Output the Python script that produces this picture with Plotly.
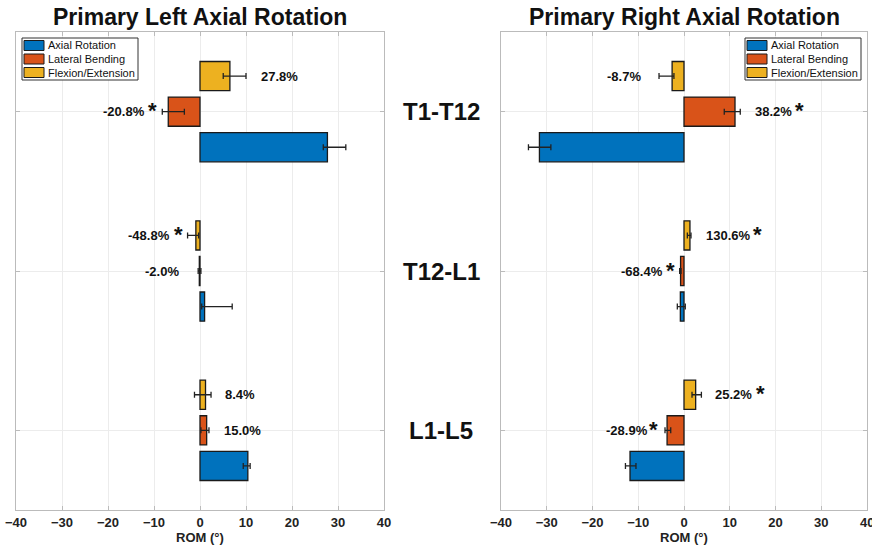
import plotly.graph_objects as go

segments = ["T1-T12", "T12-L1", "L1-L5"]
series = ["Axial Rotation", "Lateral Bending", "Flexion/Extension"]
colors = ["#0072BD", "#D95319", "#EDB120"]
xticks = [-40, -30, -20, -10, 0, 10, 20, 30, 40]

# Left panel (Primary Left Axial Rotation)
left_axial = [27.7, 1.0, 10.4]
left_axial_plus = [4.0, 6.0, 0.5]
left_axial_minus = [0.9, 0.63, 1.0]
left_lateral = [-6.9, -0.15, 1.45]
left_lateral_plus = [3.5, 0.35, 0.5]
left_lateral_minus = [1.3, 0.25, 1.25]
left_flex = [6.5, -0.9, 1.2]
left_flex_plus = [3.5, 0.6, 1.2]
left_flex_minus = [1.45, 1.8, 2.4]

# Right panel (Primary Right Axial Rotation)
right_axial = [-31.6, -0.8, -11.8]
right_axial_plus = [2.5, 1.08, 1.3]
right_axial_minus = [2.4, 0.66, 1.0]
right_lateral = [11.15, -0.75, -3.7]
right_lateral_plus = [1.15, 0.1, 0.8]
right_lateral_minus = [2.35, 0.2, 0.45]
right_flex = [-2.6, 1.3, 2.55]
right_flex_plus = [0.4, 0.23, 1.25]
right_flex_minus = [2.86, 0.57, 0.8]

# Percent-change labels: (segment index, series index, text, significant)
left_labels = [
    (0, 2, "27.8%", False), (0, 1, "-20.8%", True),
    (1, 2, "-48.8%", True), (1, 1, "-2.0%", False),
    (2, 2, "8.4%", False), (2, 1, "15.0%", False),
]
right_labels = [
    (0, 2, "-8.7%", False), (0, 1, "38.2%", True),
    (1, 2, "130.6%", True), (1, 1, "-68.4%", True),
    (2, 2, "25.2%", True), (2, 1, "-28.9%", True),
]
# label x positions (text centre, star) in data units
left_label_x = [(17.2, None), (-16.5, -10.3), (-11.1, -4.6), (-8.2, None), (8.7, None), (9.3, None)]
right_label_x = [(-13.1, None), (19.5, 25.2), (9.7, 16.1), (-9.1, -2.9), (10.9, 16.8), (-12.5, -6.6)]

ypos = [3, 2, 1]
slot = 0.223
offsets = [-slot, 0, slot]

FONT = "Liberation Sans, Arial, Helvetica, sans-serif"
W, H = 872, 547

fig = go.Figure()

def add_panel(vals, plus, minus, xa, ya):
    for i in range(3):
        fig.add_trace(go.Bar(
            y=ypos, x=vals[i], orientation="h", name=series[i],
            marker=dict(color=colors[i], line=dict(color="#1a1a1a", width=1.3)),
            error_x=dict(type="data", symmetric=False, array=plus[i], arrayminus=minus[i],
                         color="#222", thickness=1.3, width=3),
            xaxis=xa, yaxis=ya, showlegend=False,
        ))

add_panel([left_axial, left_lateral, left_flex],
          [left_axial_plus, left_lateral_plus, left_flex_plus],
          [left_axial_minus, left_lateral_minus, left_flex_minus], "x", "y")
add_panel([right_axial, right_lateral, right_flex],
          [right_axial_plus, right_lateral_plus, right_flex_plus],
          [right_axial_minus, right_lateral_minus, right_flex_minus], "x2", "y2")

ydom = [1 - 510 / H, 1 - 32 / H]
axis_common = dict(
    range=[-40, 40], tickvals=xticks,
    ticks="inside", ticklen=4, tickcolor="#bbb", showline=True, linecolor="#bbb",
    linewidth=1, mirror="ticks", showgrid=True, gridcolor="#ececec", zeroline=False,
    tickfont=dict(family=FONT, size=13, color="#222", weight="bold"),
    title=dict(text="ROM (°)", font=dict(family=FONT, size=13, color="#222", weight="bold"), standoff=2),
    fixedrange=True,
)
yaxis_common = dict(
    range=[0.5, 3.5], tickvals=[1, 2, 3], showticklabels=False, ticks="inside", ticklen=4,
    tickcolor="#bbb", showline=True, linecolor="#bbb", linewidth=1, mirror="ticks",
    showgrid=True, gridcolor="#ececec", zeroline=False, fixedrange=True,
)

fig.update_layout(
    width=W, height=H, margin=dict(l=0, r=0, t=0, b=0, autoexpand=False),
    paper_bgcolor="white", plot_bgcolor="white",
    barmode="group", bargap=0.33, bargroupgap=0.18,
    font=dict(family=FONT, color="#111"),
    showlegend=False,
    xaxis=dict(domain=[16 / W, 384 / W], anchor="y", **axis_common),
    yaxis=dict(domain=ydom, anchor="x", **yaxis_common),
    xaxis2=dict(domain=[501 / W, 867 / W], anchor="y2", **axis_common),
    yaxis2=dict(domain=ydom, anchor="x2", **yaxis_common),
)

annotations = []
shapes = []
annotations.append(dict(text="Primary Left Axial Rotation", x=200 / W, y=1 - 17 / H,
                        xref="paper", yref="paper", xanchor="center", yanchor="middle",
                        showarrow=False,
                        font=dict(family=FONT, size=23, color="#111", weight="bold")))
annotations.append(dict(text="Primary Right Axial Rotation", x=684 / W, y=1 - 17 / H,
                        xref="paper", yref="paper", xanchor="center", yanchor="middle",
                        showarrow=False,
                        font=dict(family=FONT, size=23, color="#111", weight="bold")))
for seg, yv in zip(segments, ypos):
    annotations.append(dict(text=seg, x=441 / W, y=yv, xref="paper", yref="y",
                            xanchor="center", yanchor="middle", showarrow=False,
                            font=dict(family=FONT, size=24, color="#111", weight="bold")))

# last tick label of the right axis (partly beyond the page edge, as in the original)
annotations.append(dict(text=str(xticks[-1]), x=xticks[-1], xref="x2", y=1 - 522 / H, yref="paper",
                        xanchor="center", yanchor="middle", showarrow=False,
                        font=dict(family=FONT, size=13, color="#222", weight="bold")))

def add_labels(labels, label_x, xref, yref):
    for (si, ser, txt, sig), (lx, sx) in zip(labels, label_x):
        yv = ypos[si] + offsets[ser]
        annotations.append(dict(text=txt, x=lx, y=yv, xref=xref, yref=yref, showarrow=False,
                                xanchor="center", yanchor="middle",
                                font=dict(family=FONT, size=13, color="#111", weight="bold")))
        if sig and sx is not None:
            annotations.append(dict(text="*", x=sx, y=yv, xref=xref, yref=yref, showarrow=False,
                                    xanchor="center", yanchor="middle", yshift=1,
                                    font=dict(family=FONT, size=22, color="#111", weight="bold")))

add_labels(left_labels, left_label_x, "x", "y")
add_labels(right_labels, right_label_x, "x2", "y2")

# legend boxes (drawn in pixel space)
def add_legend(x0, y0):
    w, h = 116, 42
    shapes.append(dict(type="rect", xref="paper", yref="paper",
                       x0=x0 / W, x1=(x0 + w) / W, y0=1 - (y0 + h) / H, y1=1 - y0 / H,
                       line=dict(color="#333", width=1), fillcolor="white", layer="above"))
    for i, name in enumerate(series):
        cy = y0 + 7.5 + i * 13.5
        shapes.append(dict(type="rect", xref="paper", yref="paper",
                           x0=(x0 + 2) / W, x1=(x0 + 22) / W,
                           y0=1 - (cy + 5) / H, y1=1 - (cy - 5) / H,
                           line=dict(color="#1a1a1a", width=1), fillcolor=colors[i], layer="above"))
        annotations.append(dict(text=name, x=(x0 + 24) / W, y=1 - cy / H, xref="paper", yref="paper",
                                xanchor="left", yanchor="middle", showarrow=False,
                                font=dict(family=FONT, size=11, color="#111")))

add_legend(22, 38)
add_legend(745, 38)

fig.update_layout(annotations=annotations, shapes=shapes)

fig.write_html("out.html", config={"displayModeBar": False},
               post_script="document.body.style.margin='0';")
